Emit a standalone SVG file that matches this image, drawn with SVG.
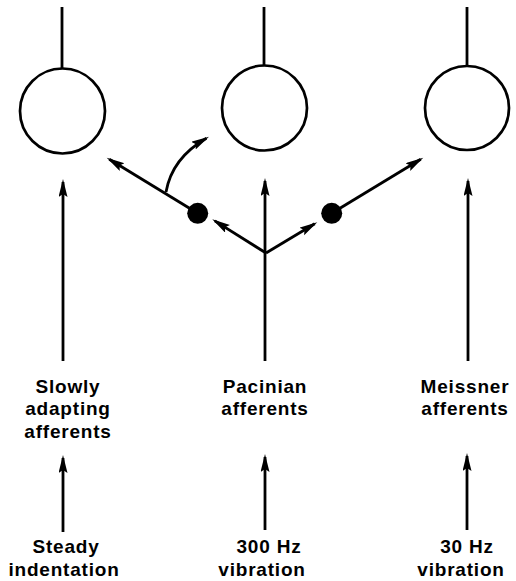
<svg xmlns="http://www.w3.org/2000/svg" width="516" height="581" viewBox="0 0 516 581">
<defs>
<style>
.ln{stroke:#000;stroke-width:2.8;fill:none}
.arr{stroke:#000;stroke-width:2.8;fill:none;marker-end:url(#ah)}
.cell{stroke:#000;stroke-width:2.7;fill:#fff}
.dot{fill:#000}
text{font-family:"Liberation Sans",Arial,sans-serif;font-weight:bold;font-size:19px;letter-spacing:0.8px;text-anchor:middle;fill:#000}
</style>
<marker id="ah" markerUnits="userSpaceOnUse" markerWidth="20" markerHeight="10" refX="15" refY="4.5" orient="auto">
<path d="M0,0 L18,4.5 L0,9 L3,4.5 z" fill="#000"/>
</marker>
</defs>
<g id="connectors">
<line class="ln" x1="62" y1="7" x2="62" y2="69"/>
<line class="ln" x1="264" y1="7" x2="264" y2="66"/>
<line class="ln" x1="467" y1="7" x2="467" y2="66"/>
<line class="arr" x1="63" y1="361" x2="63" y2="182"/>
<line class="arr" x1="265" y1="361" x2="265" y2="181"/>
<line class="arr" x1="468" y1="361" x2="468" y2="181"/>
<line class="arr" x1="63" y1="532" x2="63" y2="458"/>
<line class="arr" x1="265" y1="530" x2="265" y2="457"/>
<line class="arr" x1="467" y1="530" x2="467" y2="456"/>
<line class="arr" x1="266" y1="253" x2="214.8" y2="220.9"/>
<line class="arr" x1="266" y1="253" x2="314.7" y2="223.8"/>
<line class="arr" x1="197.7" y1="213.3" x2="109.3" y2="159.3"/>
<line class="arr" x1="331.7" y1="213.3" x2="420.7" y2="159.3"/>
<path class="arr" d="M166,192 Q172,158 206.4,138.2"/>
</g>
<g id="cell-left"><circle class="cell" cx="62.5" cy="111" r="42.5"/></g>
<g id="cell-middle"><circle class="cell" cx="264.5" cy="108" r="42.5"/></g>
<g id="cell-right"><circle class="cell" cx="467" cy="108" r="42"/></g>
<g id="inhib-left"><circle class="dot" cx="197.7" cy="213.3" r="10.5"/></g>
<g id="inhib-right"><circle class="dot" cx="331.7" cy="213.3" r="10.5"/></g>
<g id="label-sa">
<text x="68" y="392.5">Slowly</text>
<text x="68" y="414.5">adapting</text>
<text x="68" y="437.5">afferents</text>
</g>
<g id="label-pc">
<text x="265" y="392.5">Pacinian</text>
<text x="265" y="414.5">afferents</text>
</g>
<g id="label-ra">
<text x="465" y="392.5">Meissner</text>
<text x="465" y="414.5">afferents</text>
</g>
<g id="stim-steady">
<text x="66" y="553">Steady</text>
<text x="64" y="576">indentation</text>
</g>
<g id="stim-300">
<text x="269" y="553">300 Hz</text>
<text x="262" y="576">vibration</text>
</g>
<g id="stim-30">
<text x="467" y="553">30 Hz</text>
<text x="461" y="576">vibration</text>
</g>
</svg>
